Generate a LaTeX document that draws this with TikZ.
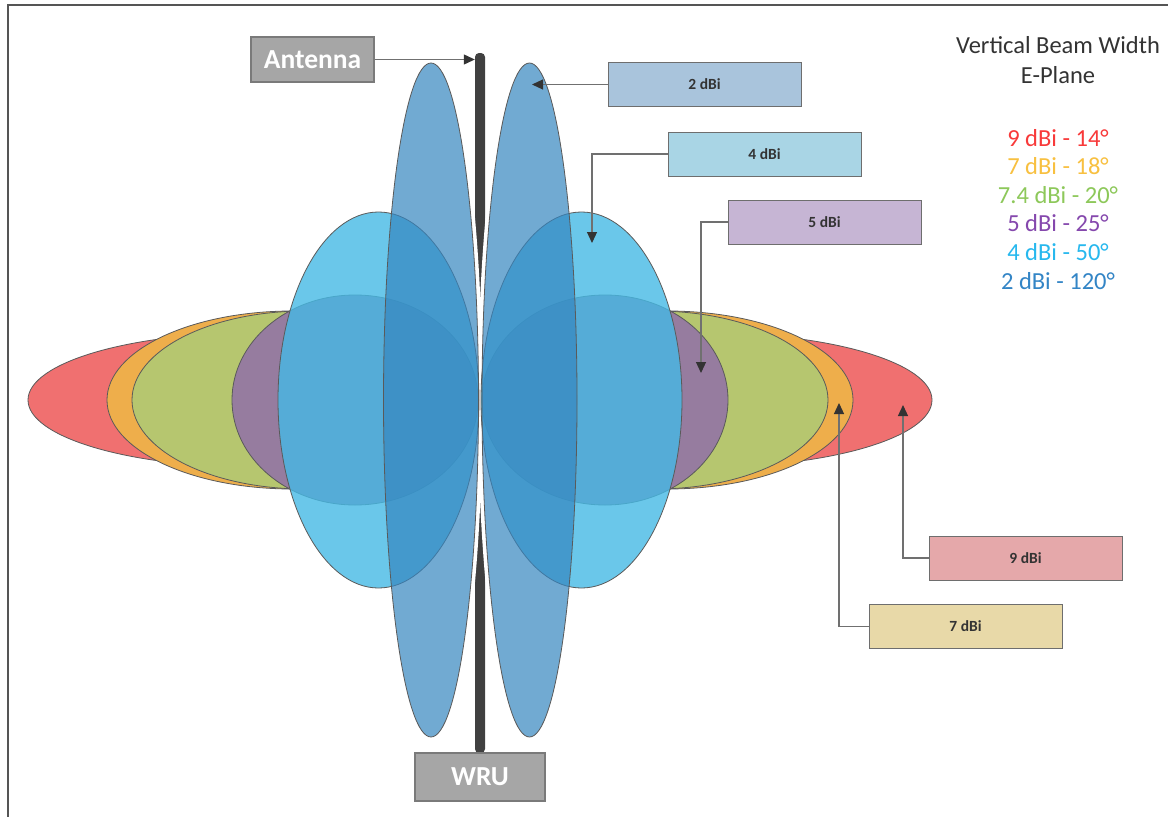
\documentclass[tikz,border=0pt]{standalone}
\usepackage{fontspec}
\setmainfont{Carlito}
\usetikzlibrary{arrows.meta}
\definecolor{red9}{HTML}{F07070}
\definecolor{or7}{HTML}{EEAE4B}
\definecolor{gr74}{HTML}{B6C66F}
\definecolor{pu5}{HTML}{967C9F}
\definecolor{lb4}{HTML}{45B9E5}
\definecolor{db2}{HTML}{3586C0}
\definecolor{polec}{HTML}{404040}
\definecolor{edgec}{HTML}{5A5A5A}
\definecolor{boxedge}{HTML}{6E6E6E}
\definecolor{greybox}{HTML}{A6A6A6}
\definecolor{greyedge}{HTML}{7A7A7A}
\definecolor{lnk}{HTML}{707070}
\definecolor{tipc}{HTML}{333333}
\definecolor{framec}{HTML}{555555}
\definecolor{f2}{HTML}{A9C4DC}
\definecolor{f4}{HTML}{A9D5E5}
\definecolor{f5}{HTML}{C6B5D4}
\definecolor{f9}{HTML}{E5A8AA}
\definecolor{f7}{HTML}{E8D9A8}
\definecolor{lg9}{HTML}{F83A3A}
\definecolor{lg7}{HTML}{F8C040}
\definecolor{lg74}{HTML}{8DC85A}
\definecolor{lg5}{HTML}{8548AD}
\definecolor{lg4}{HTML}{27B8EE}
\definecolor{lg2}{HTML}{3385C6}
\definecolor{hdc}{HTML}{333333}
\begin{document}
\begin{tikzpicture}[x=1pt,y=-1pt,
  lobe/.style={draw=edgec, line width=0.8pt},
  lbl/.style={draw=boxedge, line width=1pt, minimum width=193pt, minimum height=44pt, inner sep=0pt, font=\fontsize{15.5}{18}\selectfont\bfseries, text=tipc},
  gbox/.style={draw=greyedge, fill=greybox, line width=1.2pt, inner sep=0pt, text=white, font=\fontsize{27.5}{32}\selectfont\bfseries},
  link/.style={draw=lnk, line width=1.2pt, -{Triangle[length=11pt,width=10pt,color=tipc]}},
  leg/.style={anchor=base, font=\fontsize{24.5}{28}\selectfont, inner sep=0pt}
]
\useasboundingbox (0,0) rectangle (1168,817);
\fill[white] (0,0) rectangle (1168,817);
\draw[line width=2pt, draw=framec] (8,817) -- (8,5) -- (1168,5);

% antenna pole
\node[fill=polec, rounded corners=4pt, minimum width=10pt, minimum height=700pt, inner sep=0pt] (pole) at (480,403) {};
% light glow between the two narrow lobes, hiding the pole near the middle
\begin{scope}
  \clip (466,0) rectangle (494,817);
  \draw[white, line width=8pt] (431,400) ellipse [x radius=47.5pt, y radius=337pt];
  \draw[white, line width=8pt] (529.5,400) ellipse [x radius=47.5pt, y radius=337pt];
\end{scope}

% lobes: left and right
\path[lobe, fill=red9] (253,400) ellipse [x radius=225pt, y radius=67pt];
\path[lobe, fill=red9] (707,400) ellipse [x radius=225pt, y radius=67pt];
\path[lobe, fill=or7] (292.5,400) ellipse [x radius=185.5pt, y radius=89pt];
\path[lobe, fill=or7] (667.5,400) ellipse [x radius=185.5pt, y radius=89pt];
\path[lobe, fill=gr74] (305,400) ellipse [x radius=173pt, y radius=89pt];
\path[lobe, fill=gr74] (655,400) ellipse [x radius=173pt, y radius=89pt];
\path[lobe, fill=pu5] (355,400) ellipse [x radius=123pt, y radius=105pt];
\path[lobe, fill=pu5] (605,400) ellipse [x radius=123pt, y radius=105pt];
\path[lobe, fill=lb4, fill opacity=0.8] (378.5,400) ellipse [x radius=100.5pt, y radius=188pt];
\path[lobe, fill=lb4, fill opacity=0.8] (581.5,400) ellipse [x radius=100.5pt, y radius=188pt];
\path[lobe, fill=db2, fill opacity=0.7] (431,400) ellipse [x radius=47.5pt, y radius=337pt];
\path[lobe, fill=db2, fill opacity=0.7] (529.5,400) ellipse [x radius=47.5pt, y radius=337pt];

% grey boxes
\node[gbox, minimum width=123pt, minimum height=45pt] (ant) at (312.5,59.5) {Antenna};
\node[gbox, minimum width=130pt, minimum height=48pt] (wru) at (480,777) {WRU};

% label boxes
\node[lbl, fill=f2] (b2) at (704.5,84.5) {2 dBi};
\node[lbl, fill=f4] (b4) at (764.5,154) {4 dBi};
\node[lbl, fill=f5] (b5) at (824.5,222) {5 dBi};
\node[lbl, fill=f9] (b9) at (1025.5,558) {9 dBi};
\node[lbl, fill=f7] (b7) at (965.5,626.5) {7 dBi};

\coordinate (t2) at (532,84.5);
\coordinate (t4) at (592,243);
\coordinate (t5) at (701,373);
\coordinate (t9) at (903,405);
\coordinate (t7) at (839,403);

\draw[link] (ant.east) -- (ant.east -| pole.west);
\draw[link] (b2.west) -- (t2);
\draw[link] (b4.west) -| (t4);
\draw[link] (b5.west) -| (t5);
\draw[link] (b9.west) -| (t9);
\draw[link] (b7.west) -| (t7);

% legend
\node[leg, text=hdc] (lh1) at (1058,53) {Vertical Beam Width};
\node[leg, text=hdc] (lh2) at (1058,83) {E-Plane};
\node[leg, text=lg9] (l9) at (1058,146) {9 dBi - 14°};
\node[leg, text=lg7] (l7) at (1058,174.6) {7 dBi - 18°};
\node[leg, text=lg74] (l74) at (1058,203.2) {7.4 dBi - 20°};
\node[leg, text=lg5] (l5) at (1058,231.8) {5 dBi - 25°};
\node[leg, text=lg4] (l4) at (1058,260.4) {4 dBi - 50°};
\node[leg, text=lg2] (l2) at (1058,289) {2 dBi - 120°};
\end{tikzpicture}
\end{document}
